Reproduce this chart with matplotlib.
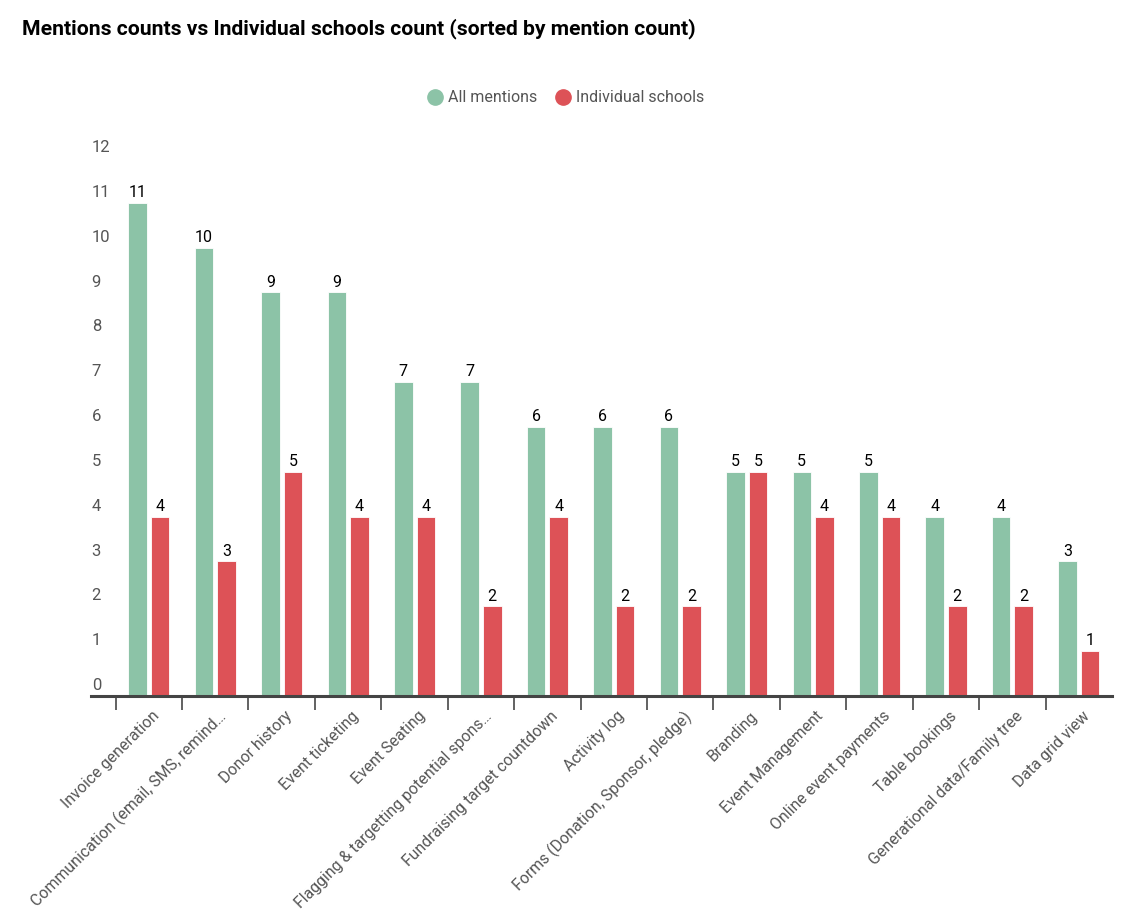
import numpy as np
import matplotlib.pyplot as plt

plt.rcParams['font.family'] = ['Roboto', 'DejaVu Sans']

features = ['Invoice generation', 'Communication (email, SMS, remind…', 'Donor history',
            'Event ticketing', 'Event Seating', 'Flagging & targetting potential spons…',
            'Fundraising target countdown', 'Activity log', 'Forms (Donation, Sponsor, pledge)',
            'Branding', 'Event Management', 'Online event payments', 'Table bookings',
            'Generational data/Family tree', 'Data grid view']
all_mentions = [11, 10, 9, 9, 7, 7, 6, 6, 6, 5, 5, 5, 4, 4, 3]
individual_schools = [4, 3, 5, 4, 4, 2, 4, 2, 2, 5, 4, 4, 2, 2, 1]
y_ticks = list(range(13))

GREEN = '#8cc3a7'
RED = '#dd5257'
GRAY = '#555555'

fig = plt.figure(figsize=(11.25, 9.13), dpi=100)
ax = fig.add_axes([0.0809, 0.2377, 0.9076, 0.5893])

x = np.arange(len(features))
width = 0.28
off = 0.17

b1 = ax.bar(x - off, all_mentions, width, color=GREEN, edgecolor='white', linewidth=0.6,
            label='All mentions', zorder=2)
b2 = ax.bar(x + off, individual_schools, width, color=RED, edgecolor='white', linewidth=0.6,
            label='Individual schools', zorder=2)

for bars, vals in ((b1, all_mentions), (b2, individual_schools)):
    for bar, v in zip(bars, vals):
        ax.annotate(str(v), xy=(bar.get_x() + bar.get_width() / 2, v),
                    xytext=(0, 2), textcoords='offset points',
                    ha='center', va='bottom', fontsize=11.5, color='black')

ax.set_xlim(-0.87, 14.5)
ax.set_ylim(0, 12)

# y labels sit just above their value, left-aligned with the axis start
ax.set_yticks([])
for v in y_ticks:
    ax.annotate(str(v), xy=(0, v), xycoords=('axes fraction', 'data'),
                xytext=(0.5, 7.5), textcoords='offset points',
                ha='left', va='center', fontsize=12, color=GRAY)

# ticks on the boundaries between categories
ax.set_xticks(np.concatenate([[-0.5], x[:-1] + 0.5]))
ax.set_xticklabels([])
ax.tick_params(axis='x', direction='out', length=10, width=1.3, color=GRAY)

for xi, name in zip(x, features):
    ax.annotate(name, xy=(xi, 0), xycoords=('data', 'axes fraction'),
                xytext=(2, -9), textcoords='offset points',
                ha='right', va='top', rotation=45, rotation_mode='anchor',
                fontsize=11.4, color=GRAY)

for s in ('top', 'right', 'left'):
    ax.spines[s].set_visible(False)
ax.spines['bottom'].set_color('#444444')
ax.spines['bottom'].set_linewidth(2.2)

fig.text(0.0196, 0.969, 'Mentions counts vs Individual schools count (sorted by mention count)',
         fontsize=15.2, fontweight='bold', ha='left', va='center', color='black')

leg = fig.legend(handles=[plt.Line2D([], [], marker='o', ls='', color=GREEN, markersize=11),
                          plt.Line2D([], [], marker='o', ls='', color=RED, markersize=11)],
                 labels=['All mentions', 'Individual schools'],
                 loc='center', bbox_to_anchor=(0.502, 0.893), ncol=2, frameon=False,
                 fontsize=11.5, handletextpad=0.2, columnspacing=1.0, handlelength=1.2)
for t in leg.get_texts():
    t.set_color(GRAY)

fig.savefig('out.png', dpi=100, facecolor='white')
